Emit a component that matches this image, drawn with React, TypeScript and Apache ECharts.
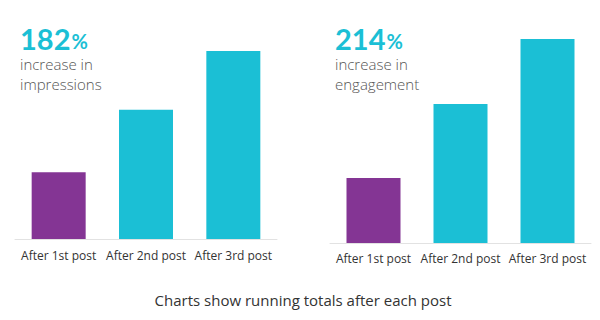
import React, { useEffect, useRef } from "react";
import * as echarts from "echarts";

const categories = ["After 1st post", "After 2nd post", "After 3rd post"];
const impressions = [100, 194, 282];
const engagement = [100, 214, 314];
const barColors = ["#843594", "#1bbfd5", "#1bbfd5"];
const headlines = ["182", "214"];
const subtitles = [["increase in", "impressions"], ["increase in", "engagement"]];
const caption = "Charts show running totals after each post";

const FONT = "'Open Sans', sans-serif";
const HEAD_FONT = "Lato, 'Open Sans', sans-serif";
const CYAN = "#1bbfd5";

export default function App() {
  const ref = useRef<HTMLDivElement>(null);

  useEffect(() => {
    if (!ref.current) return;
    const chart = echarts.init(ref.current, undefined, { renderer: "svg" });

    const barData = (vals: number[]) =>
      vals.map((v, i) => ({ value: v, itemStyle: { color: barColors[i] } }));

    const xAxisBase = {
      type: "category" as const,
      data: categories,
      axisLine: { lineStyle: { color: "#e2e2e2", width: 1 } },
      axisTick: { show: false },
      axisLabel: { color: "#333", fontSize: 12, fontFamily: FONT, margin: 10, interval: 0 },
    };
    const yAxisBase = {
      type: "value" as const,
      min: 0,
      show: false,
      splitLine: { show: false },
    };

    const subStyle = {
      fontSize: 15,
      fontFamily: FONT,
      fontWeight: 300,
      fill: "#555",
      verticalAlign: "middle",
    };

    const headText = (x: number, i: number) => [
      {
        type: "text",
        x,
        y: 38,
        style: {
          text: `{n|${headlines[i]}}{p|%}`,
          verticalAlign: "middle",
          rich: {
            n: { fontSize: 29, fontWeight: "bold", fill: CYAN, fontFamily: HEAD_FONT },
            p: { fontSize: 20, fontWeight: "bold", fill: CYAN, fontFamily: HEAD_FONT, padding: [6, 0, 0, 1] },
          },
        },
      },
      { type: "text", x, y: 64, style: { ...subStyle, text: subtitles[i][0] } },
      { type: "text", x, y: 84, style: { ...subStyle, text: subtitles[i][1] } },
    ];

    chart.setOption({
      animation: false,
      grid: [
        { left: 15, width: 262, top: 39, height: 200 },
        { left: 330, width: 261, top: 35, height: 208 },
      ],
      xAxis: [
        { ...xAxisBase, gridIndex: 0 },
        { ...xAxisBase, gridIndex: 1, axisLabel: { ...xAxisBase.axisLabel, margin: 9 } },
      ],
      yAxis: [
        { ...yAxisBase, gridIndex: 0, max: 300 },
        { ...yAxisBase, gridIndex: 1, max: 320 },
      ],
      series: [
        { type: "bar", xAxisIndex: 0, yAxisIndex: 0, barWidth: 54, data: barData(impressions) },
        { type: "bar", xAxisIndex: 1, yAxisIndex: 1, barWidth: 54, data: barData(engagement) },
      ],
      graphic: [
        ...headText(20, 0),
        ...headText(335, 1),
        {
          type: "text",
          x: 303,
          y: 300,
          style: {
            text: caption,
            fontSize: 15,
            fontFamily: FONT,
            fill: "#333",
            align: "center",
            verticalAlign: "middle",
          },
        },
      ],
    });

    return () => chart.dispose();
  }, []);

  return <div ref={ref} style={{ width: 600, height: 320, position: "absolute", left: 0, top: 0 }} />;
}
